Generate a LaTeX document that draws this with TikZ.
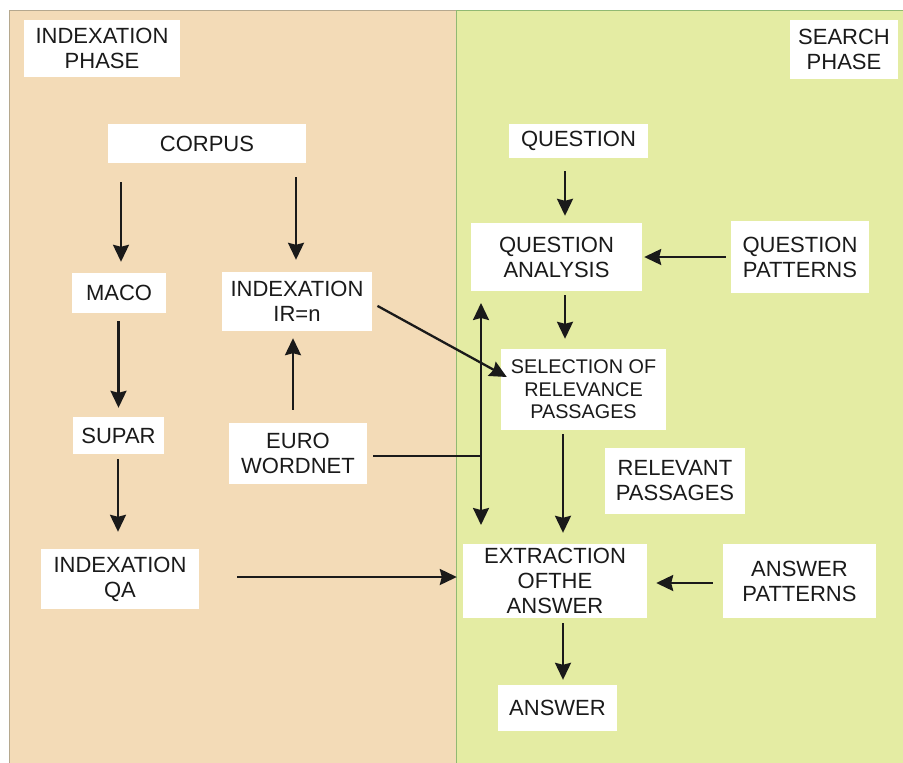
\documentclass[tikz,border=0pt]{standalone}
\usepackage{fontspec}
\setmainfont{Liberation Sans}
\usetikzlibrary{arrows.meta}
\definecolor{tanbg}{HTML}{F3DBB7}
\definecolor{greenbg}{HTML}{E4ECA3}
\definecolor{panelline}{HTML}{B5A88E}
\definecolor{ink}{HTML}{1A1A1A}
\begin{document}
\begin{tikzpicture}[x=1pt,y=1pt,
  box/.style={fill=white, inner sep=0pt, align=center, text=ink, font=\fontsize{22}{25}\selectfont},
  smallbox/.style={box, font=\fontsize{19.8}{22.5}\selectfont},
  tip/.tip={Stealth[length=17pt,width=16pt,inset=2pt]},
  arr/.style={draw=ink, line width=2.3pt, -tip},
  darr/.style={draw=ink, line width=2.3pt, tip-tip},
  ln/.style={draw=ink, line width=2.3pt}]
\useasboundingbox (0,0) rectangle (903,-763);
% panels
\fill[white] (0,0) rectangle (903,-763);
\filldraw[fill=tanbg, draw=panelline, line width=0.8pt] (9,-10) rectangle (456,-763);
\filldraw[fill=greenbg, draw=panelline!80!green, line width=0.8pt] (456,-10) rectangle (903,-763);
% nodes left
\node[box, minimum width=156pt, minimum height=57pt] (iphase) at (102,-48.5) {INDEXATION\\PHASE};
\node[box, minimum width=198pt, minimum height=39pt] (corpus) at (207,-143.5) {CORPUS};
\node[box, minimum width=94pt, minimum height=40pt] (maco) at (119,-293) {MACO};
\node[box, minimum width=150pt, minimum height=59pt] (irn) at (297,-301.5) {INDEXATION\\IR=n};
\node[box, minimum width=91pt, minimum height=37pt] (supar) at (118.5,-435.5) {SUPAR};
\node[box, minimum width=138pt, minimum height=61pt] (euro) at (298,-453.5) {EURO\\WORDNET};
\node[box, minimum width=158pt, minimum height=60pt] (iqa) at (120,-579) {INDEXATION\\QA};
% nodes right
\node[box, minimum width=108pt, minimum height=59pt] (sphase) at (844,-49.5) {SEARCH\\PHASE};
\node[box, minimum width=139pt, minimum height=34pt] (question) at (578.5,-141) {QUESTION};
\node[box, minimum width=171pt, minimum height=68pt] (qanalysis) at (556.5,-257) {QUESTION\\ANALYSIS};
\node[box, minimum width=138pt, minimum height=72pt] (qpatterns) at (800,-257) {QUESTION\\PATTERNS};
\node[smallbox, minimum width=165pt, minimum height=81pt] (sel) at (583.5,-389.5) {SELECTION OF\\RELEVANCE\\PASSAGES};
\node[box, minimum width=140pt, minimum height=66pt] (relpass) at (675,-481) {RELEVANT\\PASSAGES};
\node[box, minimum width=184pt, minimum height=74pt] (extract) at (555,-581) {EXTRACTION\\OFTHE\\ANSWER};
\node[box, minimum width=153pt, minimum height=74pt] (apatterns) at (799.5,-581) {ANSWER\\PATTERNS};
\node[box, minimum width=119pt, minimum height=46pt] (answer) at (557.5,-708) {ANSWER};
% free coordinates
\coordinate (vtop) at (481,-303);
\coordinate (vbot) at (481,-525);
\coordinate (vjoin) at (481,-456);
% connectors left
\draw[arr, shorten <=19pt, shorten >=11pt] ([xshift=2pt]corpus.south -| maco.north) -- ([xshift=2pt]maco.north);
\draw[arr, shorten <=14pt, shorten >=12pt] ([xshift=-1pt]corpus.south -| irn.north) -- ([xshift=-1pt]irn.north);
\draw[arr, shorten <=8pt, shorten >=9pt] (maco.south -| supar.north) -- (supar.north);
\draw[arr, shorten <=13pt, shorten >=7pt] ([xshift=-5pt]euro.north) -- ([xshift=-4pt]irn.south);
\draw[arr, shorten <=5pt, shorten >=17pt] ([xshift=-0.5pt]supar.south) -- ([xshift=-0.5pt]supar.south |- iqa.north);
\draw[arr, shorten <=38pt, shorten >=6pt] ([yshift=2pt]iqa.east) -- ([yshift=2pt]iqa.east -| extract.west);
\draw[ln, shorten <=6pt] ([yshift=-2.5pt]euro.east) -- (vjoin);
\draw[arr, shorten <=6pt] ([yshift=-1.5pt]irn.east) -- ([xshift=6pt,yshift=12.5pt]sel.west);
\draw[darr] (vbot) -- (vtop);
% connectors right
\draw[arr, shorten <=13pt, shorten >=7pt] ([xshift=8.5pt]qanalysis.north |- question.south) -- ([xshift=8.5pt]qanalysis.north);
\draw[arr, shorten <=5pt, shorten >=2pt] (qpatterns.west) -- (qanalysis.east);
\draw[arr, shorten <=4pt, shorten >=10pt] ([xshift=8.5pt]qanalysis.south) -- ([xshift=8.5pt]qanalysis.south |- sel.north);
\draw[arr, shorten <=4pt, shorten >=11pt] ([xshift=-20.5pt]sel.south) -- ([xshift=-20.5pt]sel.south |- extract.north);
\draw[arr, shorten <=10pt, shorten >=9pt] ([yshift=-2pt]apatterns.west) -- ([yshift=-2pt]extract.east);
\draw[arr, shorten <=5pt, shorten >=5pt] ([xshift=8pt]extract.south) -- ([xshift=8pt]extract.south |- answer.north);
\end{tikzpicture}
\end{document}
